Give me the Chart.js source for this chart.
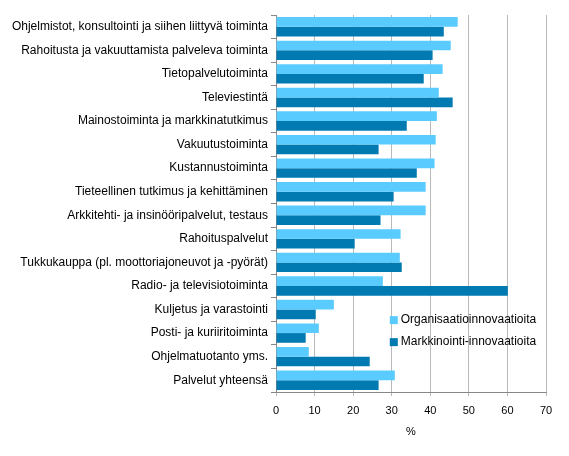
<!DOCTYPE html>
<html>
<head>
<meta charset="utf-8">
<script src="https://cdn.jsdelivr.net/npm/chart.js@4"></script>
<style>
  html, body { margin: 0; padding: 0; background: #fff; }
  #wrap { width: 569px; height: 456px; }
</style>
</head>
<body>
<div id="wrap"><canvas id="chart" width="569" height="456"></canvas></div>
<script>
// Categories, top to bottom
const categories = [
    'Ohjelmistot, konsultointi ja siihen liittyvä toiminta',
    'Rahoitusta ja vakuuttamista palveleva toiminta',
    'Tietopalvelutoiminta',
    'Televiestintä',
    'Mainostoiminta ja markkinatutkimus',
    'Vakuutustoiminta',
    'Kustannustoiminta',
    'Tieteellinen tutkimus ja kehittäminen',
    'Arkkitehti- ja insinööripalvelut, testaus',
    'Rahoituspalvelut',
    'Tukkukauppa (pl. moottoriajoneuvot ja -pyörät)',
    'Radio- ja televisiotoiminta',
    'Kuljetus ja varastointi',
    'Posti- ja kuriiritoiminta',
    'Ohjelmatuotanto yms.',
    'Palvelut yhteensä'
];

const organisaatio = [47.1, 45.3, 43.2, 42.2, 41.7, 41.4, 41.1, 38.8, 38.8, 32.3, 32.1, 27.7, 15.0, 11.1, 8.5, 30.8];
const markkinointi = [43.5, 40.6, 38.3, 45.8, 33.9, 26.6, 36.5, 30.5, 27.1, 20.4, 32.6, 60.1, 10.3, 7.7, 24.3, 26.6];

const seriesNames = ['Organisaatioinnovaatioita', 'Markkinointi-innovaatioita'];
const xTicks = [0, 10, 20, 30, 40, 50, 60, 70];

const FONT = "'Liberation Sans', Arial, sans-serif";

// Legend drawn inside the plot area, lower right
const insideLegend = {
    id: 'insideLegend',
    afterDraw(chart) {
        const ctx = chart.ctx;
        const x = chart.scales.x.getPixelForValue(29.5);
        let y = chart.scales.y.getPixelForValue(12.45);
        ctx.save();
        ctx.font = '12px ' + FONT;
        ctx.textBaseline = 'middle';
        chart.data.datasets.forEach(ds => {
            ctx.fillStyle = ds.backgroundColor;
            ctx.fillRect(x, y - 4, 8, 8);
            ctx.fillStyle = '#000';
            ctx.fillText(ds.label, x + 11, y);
            y += 22;
        });
        ctx.restore();
    }
};

new Chart(document.getElementById('chart'), {
    type: 'bar',
    data: {
        labels: categories,
        datasets: [{
            label: seriesNames[0],
            data: organisaatio,
            backgroundColor: '#59CBFF',
            barPercentage: 1.0,
            categoryPercentage: 0.82
        }, {
            label: seriesNames[1],
            data: markkinointi,
            backgroundColor: '#007AB0',
            barPercentage: 1.0,
            categoryPercentage: 0.82
        }]
    },
    options: {
        indexAxis: 'y',
        responsive: false,
        animation: false,
        layout: { padding: { top: 15, right: 23, left: 0, bottom: 17 } },
        plugins: {
            legend: { display: false },
            tooltip: { enabled: false }
        },
        scales: {
            x: {
                min: 0,
                max: 70,
                afterBuildTicks: (scale) => {
                    scale.ticks = xTicks.map(v => ({ value: v }));
                },
                afterFit: (scale) => { scale.height = 47; },
                grid: {
                    color: '#B9B9B9',
                    lineWidth: 1,
                    drawTicks: true,
                    tickLength: 4
                },
                border: { color: '#888', width: 1 },
                ticks: {
                    color: '#000',
                    font: { family: FONT, size: 11 },
                    padding: 8
                },
                title: {
                    display: true,
                    text: '%',
                    color: '#000',
                    font: { family: FONT, size: 11 },
                    padding: { top: 4, bottom: 0 }
                }
            },
            y: {
                afterFit: (scale) => { scale.width = 276; },
                grid: {
                    offset: true,
                    drawOnChartArea: false,
                    drawTicks: true,
                    tickLength: 5,
                    color: '#888'
                },
                border: { color: '#888', width: 1 },
                ticks: {
                    color: '#000',
                    font: { family: FONT, size: 12 },
                    padding: 3,
                    autoSkip: false
                }
            }
        }
    },
    plugins: [insideLegend]
});
</script>
</body>
</html>
